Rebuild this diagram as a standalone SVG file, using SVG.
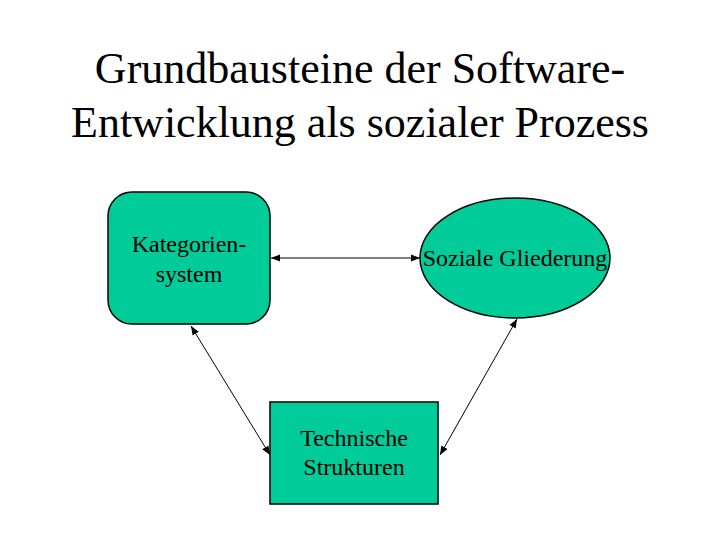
<svg xmlns="http://www.w3.org/2000/svg" width="720" height="540" viewBox="0 0 720 540">
<style>
.t{font-family:"Liberation Serif","Times New Roman",serif;fill:#000;text-anchor:middle}
.title{font-size:44px}
.lbl{font-size:24px}
.node{fill:#00cc99;stroke:#000;stroke-width:1.5}
.conn{stroke:#000;stroke-width:1;fill:none;marker-start:url(#a);marker-end:url(#a)}
</style>
<defs>
<marker id="a" viewBox="0 0 10 10" refX="10" refY="5" markerWidth="9" markerHeight="9" markerUnits="userSpaceOnUse" orient="auto-start-reverse">
<path d="M0,1 L10,5 L0,9 Z" fill="#000"/>
</marker>
</defs>
<rect width="720" height="540" fill="#fff"/>
<g id="title">
<text class="t title" x="360" y="83">Grundbausteine der Software-</text>
<text class="t title" x="360" y="137">Entwicklung als sozialer Prozess</text>
</g>
<g id="connectors">
<line class="conn" x1="271" y1="258" x2="420" y2="258"/>
<line class="conn" x1="191" y1="326" x2="270" y2="455"/>
<line class="conn" x1="517" y1="319" x2="440" y2="455"/>
</g>
<g id="kategoriensystem">
<rect class="node" x="108" y="192" width="162" height="132" rx="24" ry="24"/>
<text class="t lbl" x="189" y="252">Kategorien-</text>
<text class="t lbl" x="189" y="282">system</text>
</g>
<g id="soziale-gliederung">
<ellipse class="node" cx="515" cy="258" rx="95" ry="60"/>
<text class="t lbl" x="515" y="266">Soziale Gliederung</text>
</g>
<g id="technische-strukturen">
<rect class="node" x="270" y="402" width="168" height="102"/>
<text class="t lbl" x="354" y="446">Technische</text>
<text class="t lbl" x="354" y="475">Strukturen</text>
</g>
</svg>
